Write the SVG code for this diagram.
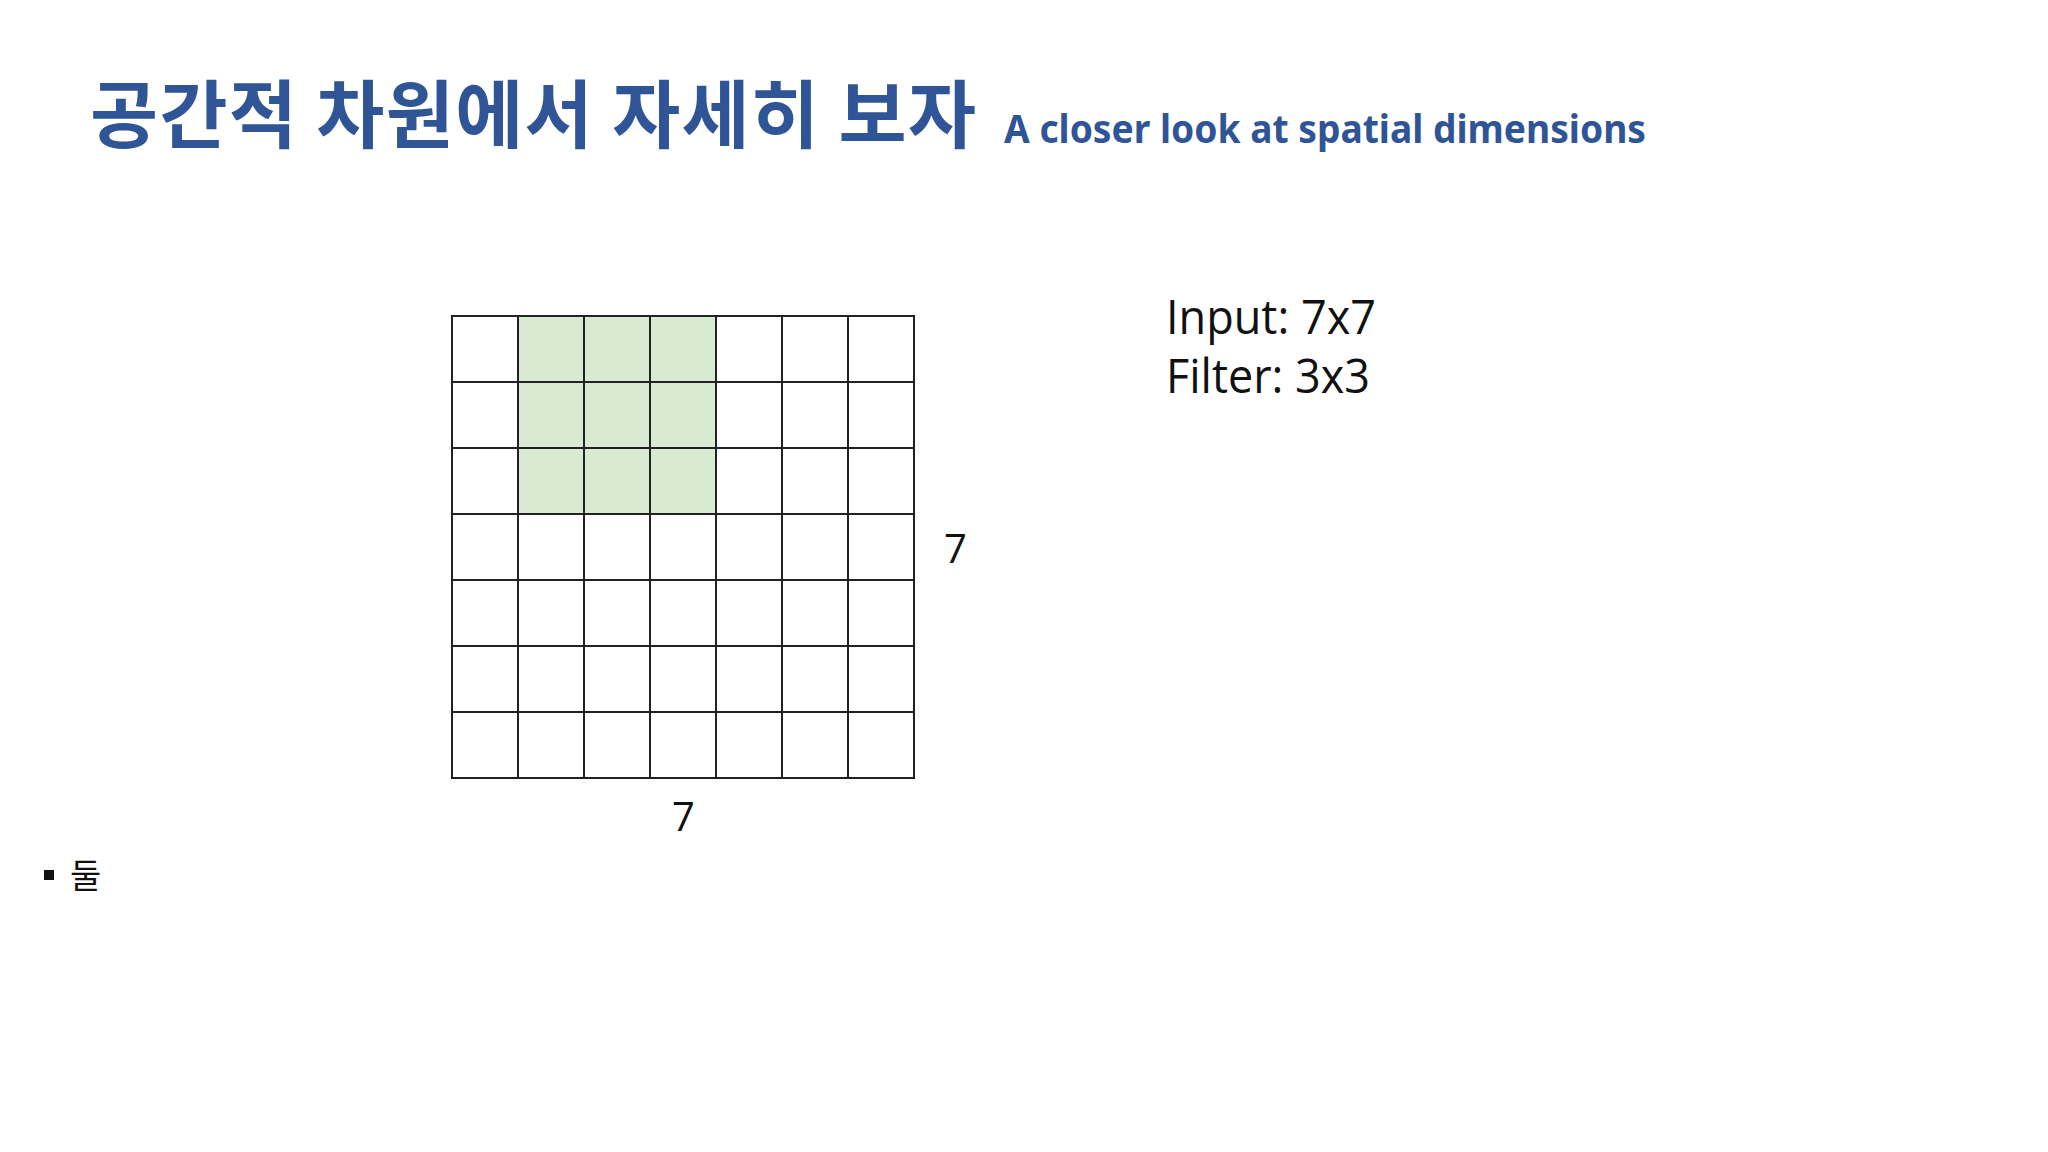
<svg xmlns="http://www.w3.org/2000/svg" width="2048" height="1152" viewBox="0 0 2048 1152">
<style>
.title{font-family:"Noto Sans CJK KR","Noto Sans",sans-serif;font-weight:700;fill:#2f5597}
.sub{font-family:"Noto Sans","Open Sans",sans-serif;font-weight:700;fill:#2f5597}
.lbl{font-family:"Open Sans","Noto Sans",sans-serif;fill:#111}
.cell{fill:none;stroke:#222;stroke-width:2}
.hl{fill:#d9ead3}
</style>
<rect width="2048" height="1152" fill="#ffffff"/>
<g id="title">
<text class="title" x="90" y="142" font-size="74" textLength="886" lengthAdjust="spacing">공간적 차원에서 자세히 보자</text>
<text class="sub" x="1004" y="143" font-size="40" textLength="642" lengthAdjust="spacingAndGlyphs">A closer look at spatial dimensions</text>
</g>
<g id="grid">
<rect class="hl" x="518" y="316" width="198" height="198"/>
<path class="cell" d="M452 316H914V778H452Z M518 316V778 M584 316V778 M650 316V778 M716 316V778 M782 316V778 M848 316V778 M452 382H914 M452 448H914 M452 514H914 M452 580H914 M452 646H914 M452 712H914"/>
</g>
<g id="labels">
<text class="lbl" x="944" y="563" font-size="40">7</text>
<text class="lbl" x="672" y="831" font-size="40">7</text>
<text class="lbl" x="1166" y="334" font-size="48" textLength="210" lengthAdjust="spacingAndGlyphs">Input: 7x7</text>
<text class="lbl" x="1166" y="393" font-size="48" textLength="204" lengthAdjust="spacingAndGlyphs">Filter: 3x3</text>
</g>
<g id="bullet">
<rect x="44" y="870" width="10" height="10" fill="#111"/>
<text x="70" y="888" font-size="34" font-family="Noto Sans CJK KR, sans-serif" fill="#111">둘</text>
</g>
</svg>
